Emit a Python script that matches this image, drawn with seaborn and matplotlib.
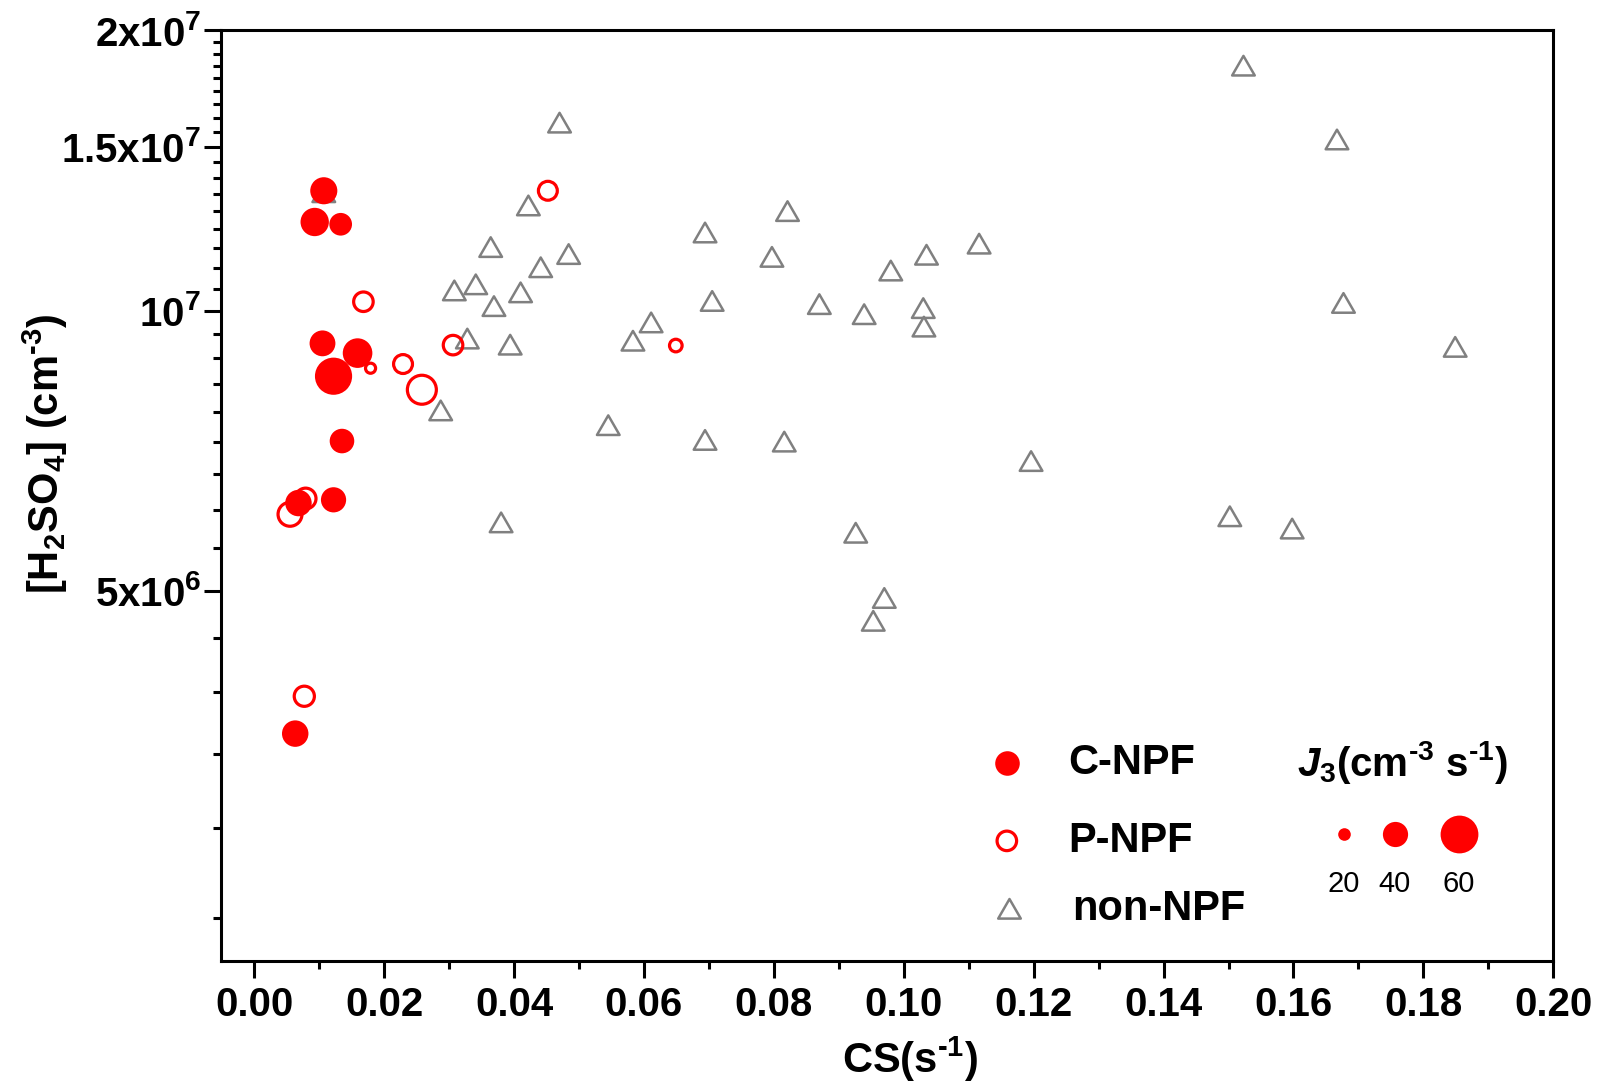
import numpy as np
import pandas as pd
import matplotlib
matplotlib.use("Agg")
import matplotlib.pyplot as plt
import seaborn as sns
from matplotlib.ticker import FixedLocator, FixedFormatter, NullFormatter, FormatStrFormatter
from matplotlib.path import Path

# ---------------- data ----------------
cnpf_cs = [0.0107, 0.0093, 0.0133, 0.0105, 0.0159, 0.0122, 0.0135, 0.0068, 0.0122, 0.0063]
cnpf_h2so4 = [1.345e7, 1.245e7, 1.238e7, 9.22e6, 9.0e6, 8.5e6, 7.24e6, 6.21e6, 6.26e6, 3.51e6]
cnpf_j3 = [43, 45, 36, 41, 47, 59, 39, 42, 40, 42]

pnpf_cs = [0.0452, 0.0168, 0.0179, 0.0229, 0.0258, 0.0306, 0.0649, 0.0055, 0.0079, 0.0077]
pnpf_h2so4 = [1.345e7, 1.022e7, 8.67e6, 8.76e6, 8.22e6, 9.18e6, 9.17e6, 6.04e6, 6.28e6, 3.85e6]
pnpf_j3 = [34, 35, 20, 34, 50, 35, 24, 42, 37, 36]

non_cs = [0.1523, 0.0470, 0.1667, 0.0422, 0.0821, 0.0694, 0.0364, 0.1116, 0.0484, 0.0797,
          0.1035, 0.0441, 0.0980, 0.0341, 0.0308, 0.0410, 0.0369, 0.0705, 0.0870, 0.1677,
          0.1030, 0.0939, 0.0611, 0.1031, 0.0328, 0.0583, 0.0394, 0.1849, 0.0287, 0.0545,
          0.0694, 0.0816, 0.1196, 0.1502, 0.0380, 0.1598, 0.0926, 0.0970, 0.0953, 0.0107]
non_h2so4 = [1.833e7, 1.592e7, 1.527e7, 1.297e7, 1.279e7, 1.213e7, 1.17e7, 1.18e7, 1.15e7, 1.142e7,
             1.148e7, 1.113e7, 1.104e7, 1.067e7, 1.051e7, 1.046e7, 1.011e7, 1.024e7, 1.016e7, 1.019e7,
             1.006e7, 9.91e6, 9.71e6, 9.61e6, 9.33e6, 9.28e6, 9.19e6, 9.14e6, 7.81e6, 7.53e6,
             7.26e6, 7.23e6, 6.89e6, 6.01e6, 5.92e6, 5.83e6, 5.77e6, 4.91e6, 4.64e6, 1.34e7]

x_ticks = [0.00, 0.02, 0.04, 0.06, 0.08, 0.10, 0.12, 0.14, 0.16, 0.18, 0.20]
x_minor = [0.01, 0.03, 0.05, 0.07, 0.09, 0.11, 0.13, 0.15, 0.17, 0.19]
y_major = [5e6, 1e7, 1.5e7, 2e7]
y_major_labels = ["5x10$^{6}$", "10$^{7}$", "1.5x10$^{7}$", "2x10$^{7}$"]
legend_j3 = [20, 40, 60]
category_labels = ["C-NPF", "P-NPF", "non-NPF"]

# ---------------- style ----------------
sns.set_theme(style="ticks")
plt.rcParams.update({
    "font.weight": "bold",
    "mathtext.fontset": "custom",
    "mathtext.rm": "Liberation Sans:bold",
    "mathtext.bf": "Liberation Sans:bold",
    "mathtext.it": "Liberation Sans:bold:italic",
    "mathtext.default": "rm",
    "axes.linewidth": 2.2,
    "axes.edgecolor": "black",
    "text.color": "black",
    "axes.labelcolor": "black",
    "xtick.color": "black",
    "ytick.color": "black",
})
plt.rcParams["font.family"] = ["Liberation Sans", "DejaVu Sans"]

FS = 29

fig = plt.figure(figsize=(15.98, 10.87), dpi=100)
ax = fig.add_axes([0.138, 0.116, 0.834, 0.856])


def area(j):
    return (0.4536 * j) ** 2


tri = Path([(-1, -0.866), (1, -0.866), (0, 0.866), (-1, -0.866)],
           [Path.MOVETO, Path.LINETO, Path.LINETO, Path.CLOSEPOLY])
TRI_S = 265
TRI_LW = 1.8

df_non = pd.DataFrame({"CS": non_cs, "H2SO4": non_h2so4})
df_c = pd.DataFrame({"CS": cnpf_cs, "H2SO4": cnpf_h2so4, "J3": cnpf_j3})
df_p = pd.DataFrame({"CS": pnpf_cs, "H2SO4": pnpf_h2so4, "J3": pnpf_j3})

sns.scatterplot(data=df_non, x="CS", y="H2SO4", marker=tri, s=TRI_S,
                facecolor="none", edgecolor="#808080", linewidth=TRI_LW,
                ax=ax, legend=False, zorder=2)
sns.scatterplot(data=df_c, x="CS", y="H2SO4", size="J3",
                sizes={j: area(j) for j in set(cnpf_j3)},
                color="#ff0000", linewidth=0, ax=ax, legend=False, zorder=3)
sns.scatterplot(data=df_p, x="CS", y="H2SO4", size="J3",
                sizes={j: area(j - 4) for j in set(pnpf_j3)},
                facecolor="none", edgecolor="#ff0000", linewidth=2.3,
                ax=ax, legend=False, zorder=4)

# ---------------- axes ----------------
ax.set_yscale("log")
ax.set_xlim(-0.0052, 0.2)
ax.set_ylim(2.0e6, 2.0e7)

ax.xaxis.set_major_locator(FixedLocator(x_ticks))
ax.xaxis.set_major_formatter(FormatStrFormatter("%.2f"))
ax.xaxis.set_minor_locator(FixedLocator(x_minor))

step = 5e6 / 9
y_minor = [k * step for k in range(4, 36) if k % 9]
ax.yaxis.set_major_locator(FixedLocator(y_major))
ax.yaxis.set_major_formatter(FixedFormatter(y_major_labels))
ax.yaxis.set_minor_locator(FixedLocator(y_minor))
ax.yaxis.set_minor_formatter(NullFormatter())

ax.tick_params(axis="both", which="major", direction="out", length=12, width=2.2,
               labelsize=FS, colors="black")
ax.tick_params(axis="both", which="minor", direction="out", length=6, width=2.2,
               colors="black")
ax.tick_params(axis="x", which="major", pad=6)
ax.tick_params(axis="y", which="major", pad=2)
for lab in ax.get_xticklabels() + ax.get_yticklabels():
    lab.set_fontweight("bold")
    lab.set_color("black")

for sp in ax.spines.values():
    sp.set_visible(True)
    sp.set_linewidth(2.2)
    sp.set_color("black")
ax.grid(False)

ax.set_xlabel(r"CS(s$^{\text{-1}}$)", fontsize=FS + 1, fontweight="bold", va="center",
              color="black")
ax.xaxis.set_label_coords(0.517, -0.106)
ax.set_ylabel(r"[H$_{2}$SO$_{4}$] (cm$^{\text{-3}}$)", fontsize=FS + 1, fontweight="bold",
              va="center", color="black")
ax.yaxis.set_label_coords(-0.1316, 0.545)

# ---------------- legends ----------------
tA = ax.transAxes
leg_y = [0.2125, 0.129, 0.056]
ax.scatter([0.590], [leg_y[0]], s=area(39), color="#ff0000", linewidth=0, transform=tA,
           clip_on=False, zorder=5)
ax.scatter([0.590], [leg_y[1]], s=area(31), facecolor="none", edgecolor="#ff0000",
           linewidth=2.3, transform=tA, clip_on=False, zorder=5)
ax.scatter([0.592], [leg_y[2]], s=TRI_S, marker=tri, facecolor="none", edgecolor="#808080",
           linewidth=TRI_LW, transform=tA, clip_on=False, zorder=5)
for yy, lab, xx in zip(leg_y, category_labels, [0.636, 0.636, 0.639]):
    ax.text(xx, yy, lab, transform=tA, fontsize=FS + 1, fontweight="bold",
            va="center", ha="left", color="black")

ax.text(0.887, 0.2136, r"$\mathit{J}_{3}$(cm$^{\text{-3}}$ s$^{\text{-1}}$)", transform=tA,
        fontsize=FS, fontweight="bold", va="center", ha="center", color="black")
size_x = [0.843, 0.881, 0.929]
for xx, j in zip(size_x, legend_j3):
    ax.scatter([xx], [0.136], s=area(j), color="#ff0000", linewidth=0, transform=tA,
               clip_on=False, zorder=5)
    ax.text(xx, 0.083, str(j), transform=tA, fontsize=21, fontweight="normal",
            va="center", ha="center", color="black")

fig.savefig("out.png", dpi=100)
